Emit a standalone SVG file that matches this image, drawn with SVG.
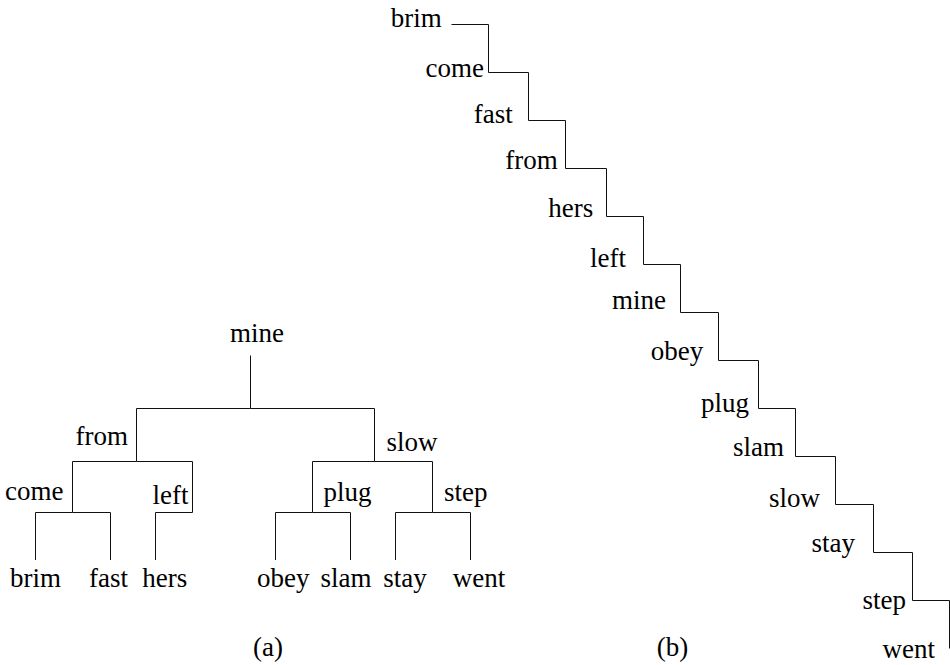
<svg xmlns="http://www.w3.org/2000/svg" width="950" height="665" viewBox="0 0 950 665" font-family="'Liberation Serif', 'DejaVu Serif', 'Times New Roman', serif" font-size="27">
<style>
  text { font-family: 'Liberation Serif', 'DejaVu Serif', 'Times New Roman', serif; font-size: 27px; fill: #000; }
  .m { text-anchor: middle; }
  .e { text-anchor: end; }
  .s { text-anchor: start; }
  .c { fill: none; stroke: #111; stroke-width: 1; }
</style>
<rect x="0" y="0" width="950" height="665" fill="#fff"/>

<!-- (a) tree connectors -->
<g id="connectors-a">
  <path class="c" d="M250.5 355.5 V408.5"/>
  <path class="c" d="M250.5 408.5 H136.5 V461.5"/>
  <path class="c" d="M250.5 408.5 H374.5 V461.5"/>
  <path class="c" d="M136.5 461.5 H72.5 V512.5"/>
  <path class="c" d="M136.5 461.5 H192.5 V512.5"/>
  <path class="c" d="M72.5 512.5 H35.5 V560"/>
  <path class="c" d="M72.5 512.5 H110.5 V560"/>
  <path class="c" d="M192.5 512.5 H155.5 V560"/>
  <path class="c" d="M374.5 461.5 H312.5 V512.5"/>
  <path class="c" d="M374.5 461.5 H432.5 V512.5"/>
  <path class="c" d="M312.5 512.5 H275.5 V560"/>
  <path class="c" d="M312.5 512.5 H350.5 V560"/>
  <path class="c" d="M432.5 512.5 H395.5 V560"/>
  <path class="c" d="M432.5 512.5 H470.5 V560"/>
</g>

<!-- (a) tree nodes -->
<g id="a-mine"><text class="m" x="257" y="341.5">mine</text></g>
<g id="a-from"><text class="e" x="128" y="445">from</text></g>
<g id="a-slow"><text class="s" x="386.5" y="450.5">slow</text></g>
<g id="a-come"><text class="e" x="63.5" y="500">come</text></g>
<g id="a-left"><text class="e" x="188.5" y="504">left</text></g>
<g id="a-plug"><text class="s" x="323.5" y="500.5">plug</text></g>
<g id="a-step"><text class="s" x="444" y="500.5">step</text></g>
<g id="a-brim"><text class="m" x="35.5" y="587">brim</text></g>
<g id="a-fast"><text class="m" x="108.5" y="587">fast</text></g>
<g id="a-hers"><text class="m" x="164.7" y="587">hers</text></g>
<g id="a-obey"><text class="m" x="283.3" y="587">obey</text></g>
<g id="a-slam"><text class="m" x="346" y="587">slam</text></g>
<g id="a-stay"><text class="m" x="405" y="587">stay</text></g>
<g id="a-went"><text class="m" x="479" y="587">went</text></g>
<text class="m" x="268" y="656">(a)</text>

<!-- (b) staircase connectors -->
<g id="connectors-b">
  <path class="c" d="M451.5 24.5 H488.5 V72.5"/>
  <path class="c" d="M488.5 72.5 H528.5 V120.5"/>
  <path class="c" d="M528.5 120.5 H565.5 V168.5"/>
  <path class="c" d="M565.5 168.5 H606.5 V216.5"/>
  <path class="c" d="M606.5 216.5 H643.5 V264.5"/>
  <path class="c" d="M643.5 264.5 H680.5 V312.5"/>
  <path class="c" d="M680.5 312.5 H718.5 V360.5"/>
  <path class="c" d="M718.5 360.5 H758.5 V408.5"/>
  <path class="c" d="M758.5 408.5 H795.5 V456.5"/>
  <path class="c" d="M795.5 456.5 H835.5 V504.5"/>
  <path class="c" d="M835.5 504.5 H873.5 V552.5"/>
  <path class="c" d="M873.5 552.5 H912.5 V600.5"/>
  <path class="c" d="M912.5 600.5 H949.5 V648.5"/>
</g>

<!-- (b) staircase nodes -->
<g id="b-brim"><text class="e" x="441.7" y="27">brim</text></g>
<g id="b-come"><text class="e" x="484" y="77">come</text></g>
<g id="b-fast"><text class="e" x="512.7" y="123">fast</text></g>
<g id="b-from"><text class="e" x="557.7" y="168.5">from</text></g>
<g id="b-hers"><text class="e" x="593.3" y="216.5">hers</text></g>
<g id="b-left"><text class="e" x="626" y="267">left</text></g>
<g id="b-mine"><text class="e" x="666" y="309">mine</text></g>
<g id="b-obey"><text class="e" x="703.3" y="359.5">obey</text></g>
<g id="b-plug"><text class="e" x="749" y="412">plug</text></g>
<g id="b-slam"><text class="e" x="784" y="456">slam</text></g>
<g id="b-slow"><text class="e" x="820" y="506.5">slow</text></g>
<g id="b-stay"><text class="e" x="855" y="552">stay</text></g>
<g id="b-step"><text class="e" x="906" y="609">step</text></g>
<g id="b-went"><text class="e" x="935" y="658">went</text></g>
<text class="m" x="672.5" y="656">(b)</text>
</svg>
